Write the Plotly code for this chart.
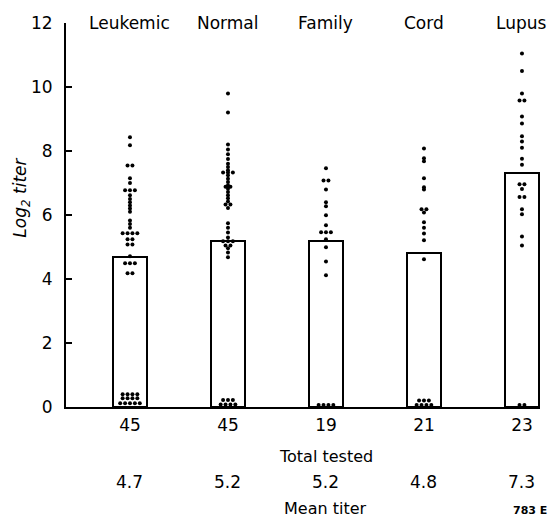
import plotly.graph_objects as go
from collections import Counter

groups = ["Leukemic", "Normal", "Family", "Cord", "Lupus"]
total_tested = ["45", "45", "19", "21", "23"]
mean_titer = [4.7, 5.2, 5.2, 4.8, 7.3]
y_ticks = [0, 2, 4, 6, 8, 10, 12]

leukemic = [8.43, 8.18, 7.55, 7.55, 7.15, 7.0, 6.77, 6.77, 6.77, 6.62, 6.5, 6.4,
            6.3, 6.2, 6.1, 5.83, 5.72, 5.6, 5.43, 5.43, 5.43, 5.43, 5.24, 5.24,
            5.08, 5.08, 4.71, 4.49, 4.49, 4.49, 4.18, 4.18,
            0.4, 0.4, 0.4, 0.4, 0.27, 0.27, 0.27, 0.27, 0.12, 0.12, 0.12, 0.12, 0.12]
normal = [9.8, 9.2, 8.2, 8.05, 7.9, 7.75, 7.6, 7.5, 7.4, 7.33, 7.33, 7.33, 7.24,
          7.13, 7.03, 6.93, 6.88, 6.88, 6.82, 6.72, 6.62, 6.52, 6.42, 6.33, 6.33,
          6.22, 5.74, 5.6, 5.45, 5.3, 5.18, 5.18, 5.18, 5.05, 5.05, 4.96, 4.83, 4.68,
          0.22, 0.22, 0.22, 0.08, 0.08, 0.08, 0.08]
family = [7.46, 7.08, 7.08, 6.8, 6.4, 6.27, 5.99, 5.68, 5.46, 5.46, 5.46, 5.24,
          4.99, 4.55, 4.12, 0.06, 0.06, 0.06, 0.06]
cord = [8.08, 7.77, 7.68, 7.15, 6.87, 6.8, 6.18, 6.18, 6.08, 5.77, 5.6, 5.42,
        5.21, 4.62, 0.2, 0.2, 0.2, 0.06, 0.06, 0.06, 0.06]
lupus = [11.05, 10.5, 9.8, 9.58, 9.58, 9.08, 8.86, 8.46, 8.3, 8.1, 7.76, 7.57,
         6.96, 6.96, 6.81, 6.56, 6.56, 6.18, 6.02, 5.33, 5.05, 0.06, 0.06]

series = [leukemic, normal, family, cord, lupus]

FONT = "DejaVu Sans"
fig = go.Figure()

fig.add_trace(go.Bar(
    x=list(range(len(groups))), y=mean_titer, width=0.35,
    marker=dict(color="white", line=dict(color="black", width=2)),
    hoverinfo="skip", showlegend=False,
))

spacing = 0.05
for gi, vals in enumerate(series):
    counts = Counter(vals)
    seen = Counter()
    xs, ys = [], []
    for v in vals:
        n = counts[v]
        k = seen[v]
        seen[v] += 1
        xs.append(gi + (k - (n - 1) / 2) * spacing)
        ys.append(v)
    fig.add_trace(go.Scatter(
        x=xs, y=ys, mode="markers",
        marker=dict(color="black", size=4),
        cliponaxis=False, showlegend=False, hoverinfo="skip",
    ))

annotations = []
for gi, g in enumerate(groups):
    annotations.append(dict(x=gi, y=12, xref="x", yref="y", text=g, showarrow=False,
                            yanchor="middle", xanchor="center",
                            font=dict(family=FONT, size=17, color="black")))
    annotations.append(dict(x=gi, y=-0.196, xref="x", yref="paper",
                            text=f"{mean_titer[gi]:.1f}", showarrow=False,
                            yanchor="middle", xanchor="center",
                            font=dict(family=FONT, size=17, color="black")))
annotations.append(dict(x=2, y=-0.129, xref="x", yref="paper", text="Total tested",
                        showarrow=False, yanchor="middle", xanchor="center",
                        font=dict(family=FONT, size=16, color="black")))
annotations.append(dict(x=2, y=-0.264, xref="x", yref="paper", text="Mean titer",
                        showarrow=False, yanchor="middle", xanchor="center",
                        font=dict(family=FONT, size=16, color="black")))
annotations.append(dict(x=1.02, y=-0.27, xref="paper", yref="paper", text="<b>783 E</b>",
                        showarrow=False, yanchor="middle", xanchor="right",
                        font=dict(family=FONT, size=11, color="black")))
annotations.append(dict(x=-0.093, y=0.545, xref="paper", yref="paper",
                        text="<i>Log<sub>2</sub> titer</i>", textangle=-90,
                        showarrow=False, yanchor="middle", xanchor="center",
                        font=dict(family=FONT, size=17, color="black")))

fig.update_layout(
    width=556, height=518,
    margin=dict(l=66, r=16, t=23, b=111, pad=0),
    paper_bgcolor="white", plot_bgcolor="white",
    bargap=0,
    annotations=annotations,
    xaxis=dict(range=[-0.653, 4.184], showgrid=False, zeroline=False,
               showline=True, linecolor="black", linewidth=2,
               tickmode="array", tickvals=list(range(len(groups))),
               ticktext=total_tested, ticks="", ticklabelstandoff=2,
               tickfont=dict(family=FONT, size=17, color="black")),
    yaxis=dict(range=[0, 12], showgrid=False, zeroline=False,
               showline=True, linecolor="black", linewidth=2,
               tickmode="array", tickvals=y_ticks,
               ticktext=[str(t) for t in y_ticks],
               ticks="inside", ticklen=6, tickwidth=2, tickcolor="black",
               ticklabelstandoff=8,
               tickfont=dict(family=FONT, size=17, color="black")),
)

fig.write_html("out.html")
